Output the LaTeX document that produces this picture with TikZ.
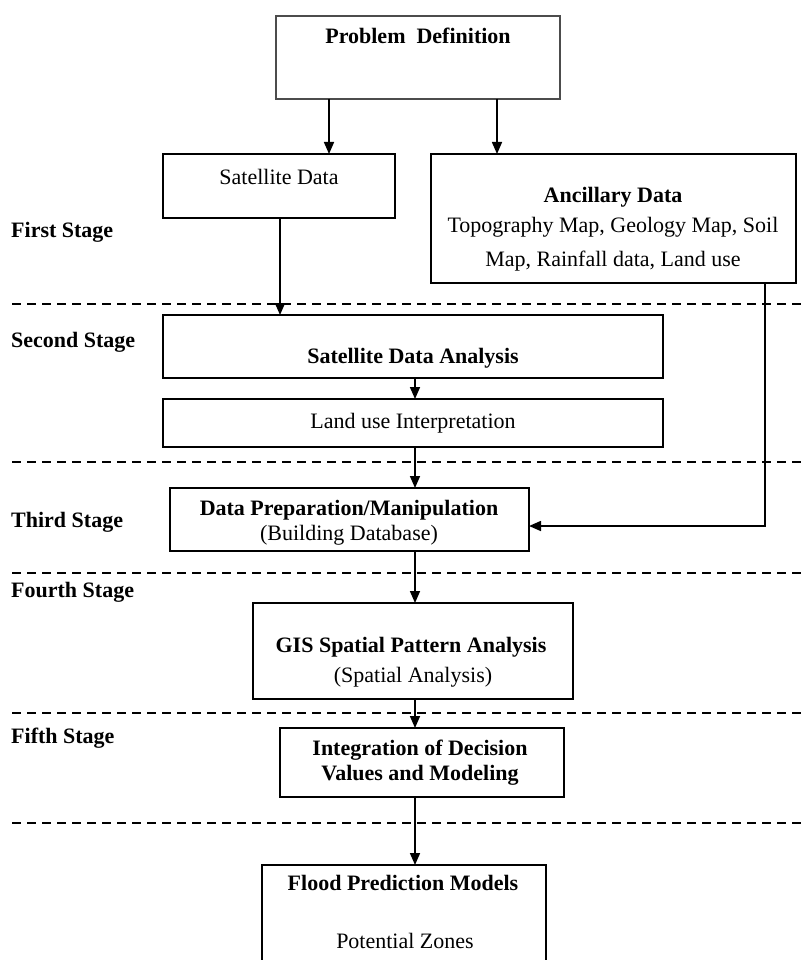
\documentclass[tikz,border=0pt]{standalone}
\usepackage{fontspec}
\setmainfont{Liberation Serif}
\usetikzlibrary{arrows.meta}
\begin{document}
\begin{tikzpicture}[x=1pt,y=-1pt,
  box/.style={draw=black,line width=1.6pt,rectangle,inner sep=0pt,outer sep=0pt},
  txt/.style={anchor=base,inner sep=0pt,font=\fontsize{22}{26}\selectfont},
  btxt/.style={txt,font=\fontsize{22}{26}\selectfont\bfseries},
  stage/.style={anchor=base west,inner sep=0pt,font=\fontsize{22}{26}\selectfont\bfseries},
  arr/.style={line width=1.6pt,-{Triangle[length=12pt,width=10pt]}},
  sep/.style={line width=1.5pt,dash pattern=on 9pt off 6pt}]
\useasboundingbox (0,0) rectangle (801,960);
\clip (0,0) rectangle (801,960);
% boxes
\node[box,draw=black!70,minimum width=284pt,minimum height=83pt] (pd) at (418,57.5) {};
\node[box,minimum width=232pt,minimum height=64pt] (sd) at (279,186) {};
\node[box,minimum width=365pt,minimum height=129pt] (ad) at (613.5,218.5) {};
\node[box,minimum width=500pt,minimum height=63pt] (sda) at (413,346.5) {};
\node[box,minimum width=500pt,minimum height=48pt] (lui) at (413,423) {};
\node[box,minimum width=359pt,minimum height=63pt] (dp) at (349.5,519.5) {};
\node[box,minimum width=320pt,minimum height=96pt] (gis) at (413,651) {};
\node[box,minimum width=284pt,minimum height=69pt] (idv) at (422,762.5) {};
\node[box,minimum width=284pt,minimum height=110pt] (fpm) at (404,920) {};
% texts
\node[btxt] (tpd) at (418,44) {Problem\ \ Definition};
\node[txt] (tsd) at (279,184) {Satellite Data};
\node[btxt] (tad) at (613,202) {Ancillary Data};
\node[txt] (tad1) at (613,232) {Topography Map, Geology Map, Soil};
\node[txt] (tad2) at (613,266) {Map, Rainfall data, Land use};
\node[btxt] (tsda) at (413,363) {Satellite Data Analysis};
\node[txt] (tlui) at (413,428) {Land use Interpretation};
\node[btxt] (tdp1) at (349,515) {Data Preparation/Manipulation};
\node[txt] (tdp2) at (349,540) {(Building Database)};
\node[btxt] (tgis1) at (411,652) {GIS Spatial Pattern Analysis};
\node[txt] (tgis2) at (413,682) {(Spatial Analysis)};
\node[btxt] (tidv1) at (420,755) {Integration of Decision};
\node[btxt] (tidv2) at (420,780) {Values and Modeling};
\node[btxt] (tfpm1) at (403,890) {Flood Prediction Models};
\node[txt] (tfpm2) at (405,948) {Potential Zones};
% stage labels
\node[stage] (s1) at (11,237) {First Stage};
\node[stage] (s2) at (11,347) {Second Stage};
\node[stage] (s3) at (11,527) {Third Stage};
\node[stage] (s4) at (11,597) {Fourth Stage};
\node[stage] (s5) at (11,743) {Fifth Stage};
% separators
\draw[sep] (12,304) -- (801,304);
\draw[sep] (12,462) -- (801,462);
\draw[sep] (12,573) -- (801,573);
\draw[sep] (12,713) -- (801,713);
\draw[sep] (12,823) -- (801,823);
% arrows
\draw[arr] (pd.south -| 329,0) -- (sd.north -| 329,0);
\draw[arr] (pd.south -| 497,0) -- (ad.north -| 497,0);
\draw[arr] (sd.south -| 280,0) -- (sda.north -| 280,0);
\draw[arr] (sda.south -| 415,0) -- (lui.north -| 415,0);
\draw[arr] (lui.south -| 415,0) -- (dp.north -| 415,0);
\draw[arr] (dp.south -| 415,0) -- (gis.north -| 415,0);
\draw[arr] (gis.south -| 415,0) -- (idv.north -| 415,0);
\draw[arr] (idv.south -| 415,0) -- (fpm.north -| 415,0);
\draw[arr] (ad.south -| 765,0) -- (765,526) -- (dp.east |- 0,526);
\end{tikzpicture}
\end{document}
